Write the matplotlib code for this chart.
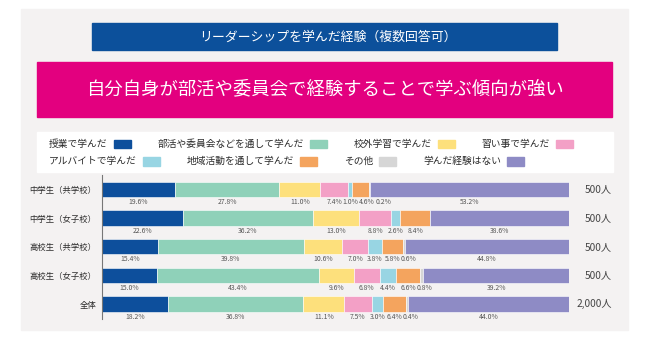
import numpy as np
import matplotlib
matplotlib.use('Agg')
import matplotlib.pyplot as plt
from matplotlib.patches import Rectangle

plt.rcParams['font.family'] = ['Noto Sans CJK JP', 'DejaVu Sans']

#################################################################################
# Donnees
#################################################################################
categories = ['中学生（共学校）', '中学生（女子校）', '高校生（共学校）', '高校生（女子校）', '全体']
respondents = ['500人', '500人', '500人', '500人', '2,000人']

series_names = ['授業で学んだ', '部活や委員会などを通して学んだ', '校外学習で学んだ', '習い事で学んだ',
                'アルバイトで学んだ', '地域活動を通して学んだ', 'その他', '学んだ経験はない']
series_colors = ['#0d4f9c', '#8fd1b9', '#fde07c', '#f3a0c6', '#98d5e3', '#f4a45e', '#d6d6d6', '#8e8bc5']

jugyo = [19.6, 22.6, 15.4, 15.0, 18.2]
bukatsu = [27.8, 36.2, 39.8, 43.4, 36.8]
kougai = [11.0, 13.0, 10.6, 9.6, 11.1]
naraigoto = [7.4, 8.8, 7.0, 6.8, 7.5]
baito = [1.0, 2.6, 3.8, 4.4, 3.0]
chiiki = [4.6, 8.4, 5.8, 6.6, 6.4]
sonota = [0.2, 0.0, 0.6, 0.8, 0.4]
nashi = [53.2, 38.6, 44.8, 39.2, 44.0]

title_top = 'リーダーシップを学んだ経験（複数回答可）'
title_main = '自分自身が部活や委員会で経験することで学ぶ傾向が強い'

W, H = 650, 345


def fx(x):
    return x / W


def fy(y):
    return 1 - y / H


fig = plt.figure(figsize=(6.5, 3.45), dpi=100)
fig.patch.set_facecolor('white')

# fond gris + bandeaux
fig.add_artist(Rectangle((fx(21), fy(330)), fx(628) - fx(21), fy(9) - fy(330),
                         transform=fig.transFigure, color='#f4f2f2', zorder=0))
fig.add_artist(Rectangle((fx(92), fy(50)), fx(557) - fx(92), fy(23) - fy(50),
                         transform=fig.transFigure, color='#0c509b', zorder=1))
fig.add_artist(Rectangle((fx(37), fy(117)), fx(612) - fx(37), fy(62) - fy(117),
                         transform=fig.transFigure, color='#e3007f', zorder=1))
fig.text(fx(328), fy(37), title_top, color='white', fontsize=9.3, ha='center', va='center')
fig.text(fx(325), fy(89), title_main, color='white', fontsize=13.2, ha='center', va='center')

# legende (boite blanche, texte puis carre de couleur)
fig.add_artist(Rectangle((fx(37), fy(172)), fx(613) - fx(37), fy(132) - fy(172),
                         transform=fig.transFigure, color='white', zorder=1))
renderer = fig.canvas.get_renderer()
rows = [(range(0, 4), 144), (range(4, 8), 161)]
for idx, ypos in rows:
    x = 49
    for k in idx:
        t = fig.text(fx(x), fy(ypos), series_names[k], fontsize=7, color='#2b2b2b',
                     ha='left', va='center', zorder=2)
        bb = t.get_window_extent(renderer=renderer)
        x = x + bb.width + 6
        fig.add_artist(Rectangle((fx(x), fy(ypos + 4.5)), fx(17), 9 / H,
                                 transform=fig.transFigure, color=series_colors[k], zorder=2))
        x = x + 17 + 27

#################################################################################
# Barres empilees (normalisees a 100%)
#################################################################################
ax = fig.add_axes([fx(101.7), fy(318.5), fx(569) - fx(101.7), 143.5 / H])
ax.set_facecolor('none')

data = np.array([jugyo, bukatsu, kougai, naraigoto, baito, chiiki, sonota, nashi])
totals = data.sum(axis=0)
ypos = np.arange(len(categories))
left = np.zeros(len(categories))
for k in range(len(series_names)):
    frac = data[k] / totals
    ax.barh(ypos, frac, left=left, height=0.54, color=series_colors[k],
            edgecolor='white', linewidth=0.4)
    left = left + frac

# etiquettes de pourcentage sous les barres, decalees si elles se chevauchent
gap = 0.035
for i in range(len(categories)):
    cum = 0.0
    last = -1
    for k in range(len(series_names)):
        v = data[k, i]
        frac = v / totals[i]
        c = cum + frac / 2
        cum += frac
        if v == 0:
            continue
        pos = max(c, last + gap)
        last = pos
        ax.text(pos, i + 0.44, '%.1f%%' % v, fontsize=4.9, color='#555555',
                ha='center', va='center')
    ax.text(1 + 43 / 467, i, respondents[i], fontsize=7.3, color='#444444',
            ha='right', va='center')

ax.set_xlim(0, 1)
ax.set_ylim(4.5, -0.5)
ax.set_yticks(ypos)
ax.set_yticklabels(categories, fontsize=6, color='#2b2b2b')
ax.tick_params(axis='y', length=0, pad=4)
ax.set_xticks([])
for s in ['top', 'right', 'bottom']:
    ax.spines[s].set_visible(False)
ax.spines['left'].set_color('#777777')
ax.spines['left'].set_linewidth(0.8)

plt.savefig('out.png', dpi=100)
plt.close()
